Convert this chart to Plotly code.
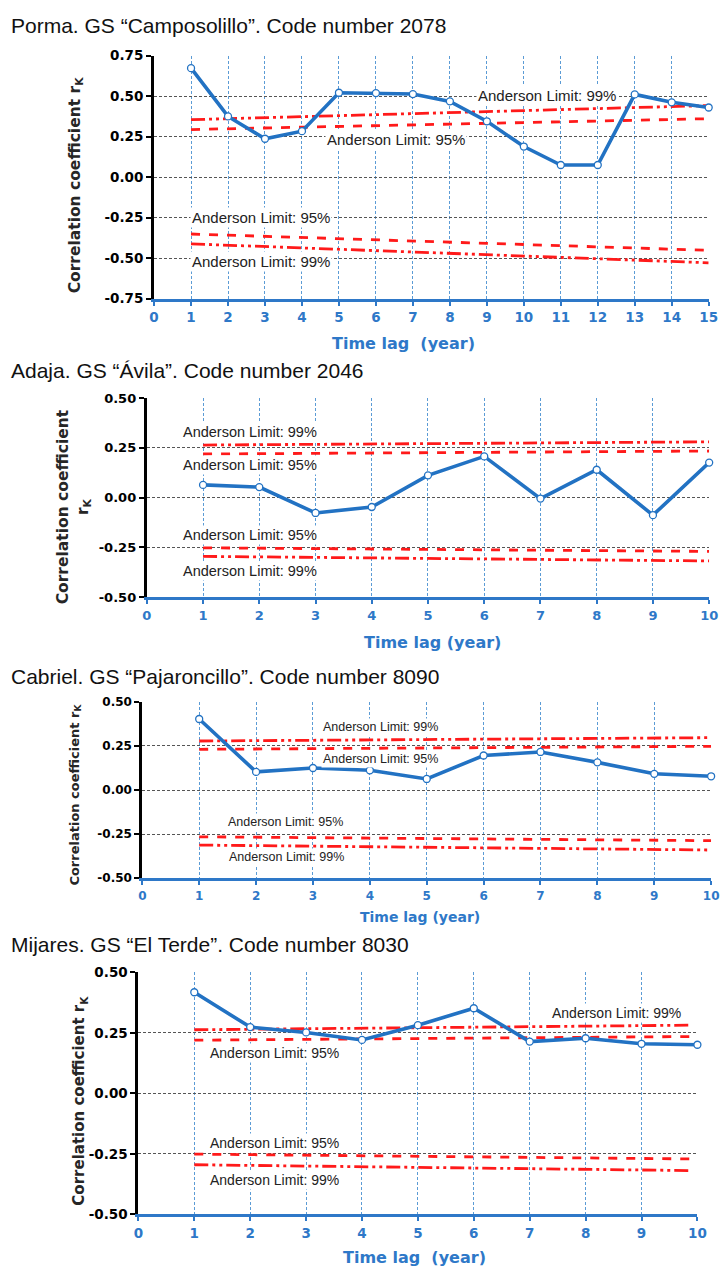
import plotly.graph_objects as go

W, H = 727, 1274

# ---------------- data ----------------
titles = [
    "Porma. GS \u201cCamposolillo\u201d. Code number 2078",
    "Adaja. GS \u201c\u00c1vila\u201d. Code number 2046",
    "Cabriel. GS \u201cPajaroncillo\u201d. Code number 8090",
    "Mijares. GS \u201cEl Terde\u201d. Code number 8030",
]

lags_1 = list(range(1, 16))
rk_1 = [0.673, 0.375, 0.237, 0.284, 0.521, 0.519, 0.513, 0.468, 0.345, 0.189, 0.075, 0.075, 0.511, 0.462, 0.430]
limx_1 = [1, 15]
up99_1 = [0.355, 0.442]
up95_1 = [0.294, 0.361]
lo95_1 = [-0.351, -0.452]
lo99_1 = [-0.412, -0.529]

lags_2 = list(range(1, 11))
rk_2 = [0.064, 0.053, -0.077, -0.047, 0.112, 0.207, -0.005, 0.140, -0.088, 0.176]
limx_2 = [1, 10]
up99_2 = [0.264, 0.280]
up95_2 = [0.219, 0.234]
lo95_2 = [-0.252, -0.270]
lo99_2 = [-0.295, -0.318]

lags_3 = list(range(1, 11))
rk_3 = [0.403, 0.103, 0.125, 0.112, 0.063, 0.196, 0.216, 0.157, 0.092, 0.078]
limx_3 = [1, 10]
up99_3 = [0.278, 0.297]
up95_3 = [0.231, 0.248]
lo95_3 = [-0.265, -0.287]
lo99_3 = [-0.312, -0.340]

lags_4 = list(range(1, 11))
rk_4 = [0.418, 0.274, 0.252, 0.221, 0.282, 0.352, 0.214, 0.228, 0.205, 0.201]
limx_4 = [1, 9.9]
up99_4 = [0.263, 0.282]
up95_4 = [0.220, 0.235]
lo95_4 = [-0.251, -0.271]
lo99_4 = [-0.295, -0.319]

yticks_1 = [-0.75, -0.50, -0.25, 0.00, 0.25, 0.50, 0.75]
yticks_n = [-0.50, -0.25, 0.00, 0.25, 0.50]
ytext_1 = ["-0.75", "-0.50", "-0.25", "0.00", "0.25", "0.50", "0.75"]
ytext_n = ["-0.50", "-0.25", "0.00", "0.25", "0.50"]
lab99 = "Anderson Limit: 99%"
lab95 = "Anderson Limit: 95%"

# ---------------- style / layout ----------------
BLUE = "#2272C3"
XBLUE = "#2E78C8"
RED = "#FF1A1A"
DASHDOT2 = "14px,4px,3px,4px,3px,4px"
LABEL_FONT = "Liberation Sans, Arial, sans-serif"
BOLD_FONT = "DejaVu Sans, Verdana, sans-serif"

def px(x):
    return x / W

def py(y):
    return 1 - y / H

panels = [
    dict(lags=lags_1, rk=rk_1, limx=limx_1, up99=up99_1, up95=up95_1, lo95=lo95_1, lo99=lo99_1,
         yt=yticks_1, ytt=ytext_1, xmax=15, ymin=-0.75, ymax=0.75,
         box=(152, 717.5, 48.3, 294.3), title_y=18,
         ytitle="Correlation coefficient r<sub>K</sub>", ytitle_xy=(72, 179), ytsize=15.5,
         xtitle="Time lag  (year)", xtitle_xy=(406, 340), xtsize=16,
         ticksize=13.5, lsize=15,
         labels=[(lab99, 10.62, 0.506), (lab95, 6.55, 0.232), (lab95, 2.89, -0.25), (lab99, 2.90, -0.521)]),
    dict(lags=lags_2, rk=rk_2, limx=limx_2, up99=up99_2, up95=up95_2, lo95=lo95_2, lo99=lo99_2,
         yt=yticks_n, ytt=ytext_n, xmax=10, ymin=-0.5, ymax=0.5,
         box=(144.6, 718, 395, 596.7), title_y=367,
         ytitle="Correlation coefficient<br>r<sub>K</sub>", ytitle_xy=(70, 505), ytsize=15.5,
         xtitle="Time lag (year)", xtitle_xy=(436, 643), xtsize=16,
         ticksize=13, lsize=14.5,
         labels=[(lab99, 1.83, 0.327), (lab95, 1.83, 0.163), (lab95, 1.83, -0.189), (lab99, 1.83, -0.368)]),
    dict(lags=lags_3, rk=rk_3, limx=limx_3, up99=up99_3, up95=up95_3, lo95=lo95_3, lo99=lo99_3,
         yt=yticks_n, ytt=ytext_n, xmax=10, ymin=-0.5, ymax=0.5,
         box=(140, 720, 702.7, 881.3), title_y=677,
         ytitle="Correlation coefficient r<sub>K</sub>", ytitle_xy=(72, 797), ytsize=13,
         xtitle="Time lag (year)", xtitle_xy=(423, 921), xtsize=14,
         ticksize=12, lsize=12.5,
         labels=[(lab99, 4.19, 0.356), (lab95, 4.19, 0.175), (lab95, 2.52, -0.183), (lab99, 2.53, -0.38)]),
    dict(lags=lags_4, rk=rk_4, limx=limx_4, up99=up99_4, up95=up95_4, lo95=lo95_4, lo99=lo99_4,
         yt=yticks_n, ytt=ytext_n, xmax=10, ymin=-0.5, ymax=0.5,
         box=(136, 706, 976.7, 1221.7), title_y=948,
         ytitle="Correlation coefficient r<sub>K</sub>", ytitle_xy=(76, 1107), ytsize=15,
         xtitle="Time lag  (year)", xtitle_xy=(418, 1265), xtsize=16,
         ticksize=13.5, lsize=14,
         labels=[(lab99, 8.56, 0.334), (lab95, 2.44, 0.167), (lab95, 2.44, -0.203), (lab99, 2.44, -0.357)]),
]

fig = go.Figure()
annotations = []
layout = {}

for i, p in enumerate(panels, start=1):
    xa = "x" if i == 1 else f"x{i}"
    ya = "y" if i == 1 else f"y{i}"
    xkey = "xaxis" if i == 1 else f"xaxis{i}"
    ykey = "yaxis" if i == 1 else f"yaxis{i}"
    x0, x1, yt, yb = p["box"]

    # limit lines
    for vals, dash in [(p["up99"], DASHDOT2), (p["up95"], "dash"), (p["lo95"], "dash"), (p["lo99"], DASHDOT2)]:
        fig.add_trace(go.Scatter(x=p["limx"], y=vals, mode="lines", xaxis=xa, yaxis=ya,
                                 line=dict(color=RED, width=2.8, dash=dash),
                                 showlegend=False, hoverinfo="skip"))
    # data line
    fig.add_trace(go.Scatter(x=p["lags"], y=p["rk"], mode="lines+markers", xaxis=xa, yaxis=ya,
                             line=dict(color=BLUE, width=3.6),
                             marker=dict(size=7, color="white", line=dict(color=BLUE, width=1.3)),
                             cliponaxis=False, showlegend=False))

    layout[xkey] = dict(domain=[px(x0), px(x1)], anchor=ya, range=[0, p["xmax"]],
                        tickmode="linear", tick0=0, dtick=1,
                        showline=True, linecolor=XBLUE, linewidth=3,
                        ticks="outside", ticklen=4, tickwidth=2, tickcolor=XBLUE,
                        showgrid=True, gridcolor="#5B9BD5", gridwidth=1, griddash="3px,2px",
                        zeroline=False,
                        tickfont=dict(family=BOLD_FONT, size=p["ticksize"], color=XBLUE, weight="bold"))
    layout[ykey] = dict(domain=[py(yb), py(yt)], anchor=xa, range=[p["ymin"], p["ymax"]],
                        tickmode="array", tickvals=p["yt"], ticktext=p["ytt"],
                        showline=True, linecolor="black", linewidth=3,
                        ticks="outside", ticklen=5, tickwidth=2, tickcolor="black",
                        showgrid=True, gridcolor="#555555", gridwidth=1, griddash="3px,2px",
                        zeroline=False,
                        tickfont=dict(family=BOLD_FONT, size=p["ticksize"], color="black", weight="bold"))

    # panel title
    annotations.append(dict(text=titles[i - 1], xref="paper", yref="paper", x=px(4), y=py(p["title_y"]),
                            xanchor="left", yanchor="middle", showarrow=False,
                            font=dict(family="Liberation Sans, Arial, sans-serif", size=21, color="#111111")))
    # axis titles
    annotations.append(dict(text=p["ytitle"], xref="paper", yref="paper",
                            x=px(p["ytitle_xy"][0]), y=py(p["ytitle_xy"][1]),
                            xanchor="center", yanchor="middle", textangle=-90, showarrow=False,
                            font=dict(family=BOLD_FONT, size=p["ytsize"], color="#262626", weight="bold")))
    annotations.append(dict(text=p["xtitle"], xref="paper", yref="paper",
                            x=px(p["xtitle_xy"][0]), y=py(p["xtitle_xy"][1]),
                            xanchor="center", yanchor="middle", showarrow=False,
                            font=dict(family=BOLD_FONT, size=p["xtsize"], color=XBLUE, weight="bold")))
    # Anderson labels
    for txt, lx, ly in p["labels"]:
        annotations.append(dict(text=txt, xref=xa, yref=ya, x=lx, y=ly, showarrow=False,
                                xanchor="center", yanchor="middle", bgcolor="white", borderpad=1,
                                font=dict(family=LABEL_FONT, size=p["lsize"], color="#222222")))

fig.update_layout(width=W, height=H, margin=dict(l=0, r=0, t=0, b=0),
                  paper_bgcolor="white", plot_bgcolor="white",
                  annotations=annotations, **layout)

fig.write_html("out.html", config={"displayModeBar": False},
               post_script="document.body.style.margin='0';document.body.style.overflow='hidden';")
